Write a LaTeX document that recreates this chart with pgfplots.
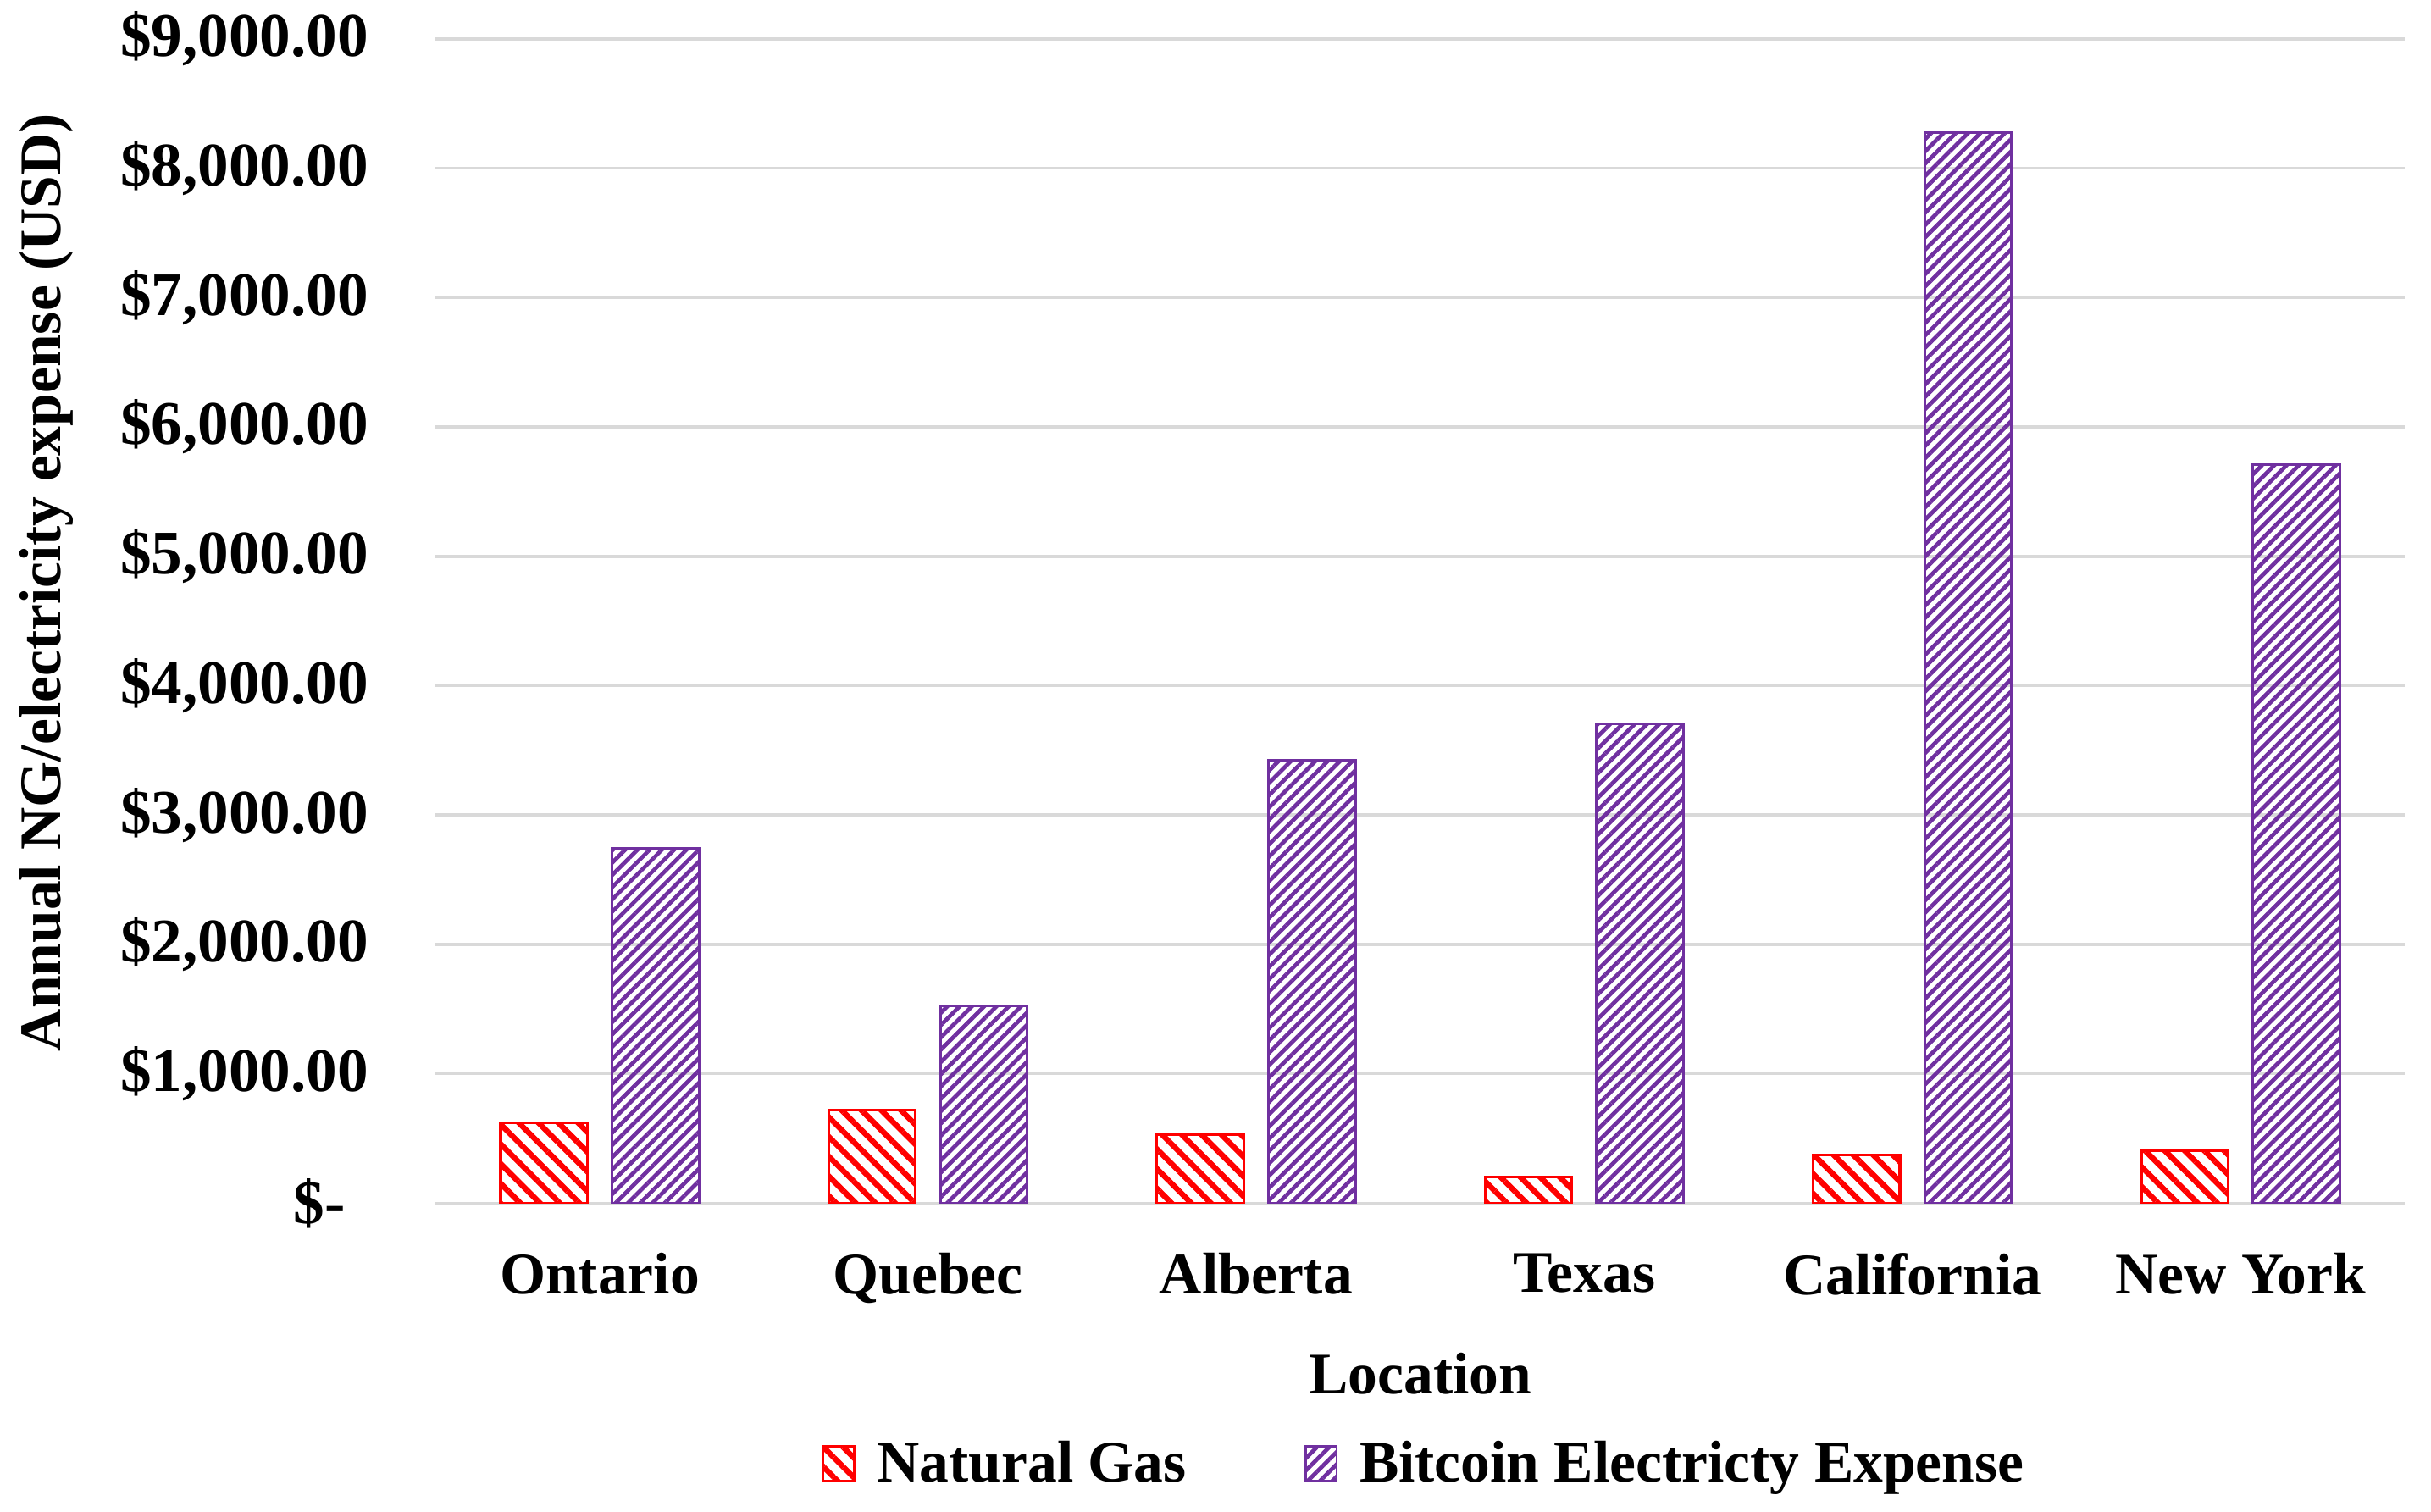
\documentclass[border=0pt]{standalone}
\usepackage{fontspec}
\setmainfont{Liberation Serif}
\usepackage{pgfplots}
\pgfplotsset{compat=1.18}
\usetikzlibrary{patterns.meta}

\definecolor{ngred}{HTML}{FF0000}
\definecolor{btcpurple}{HTML}{7030A0}
\definecolor{gridgray}{HTML}{D9D9D9}

\begin{document}
\begin{tikzpicture}[font=\bfseries\fontsize{19}{23}\selectfont]
\begin{axis}[
  name=ax,
  scale only axis,
  width=635pt, height=375.5pt,
  ybar=8pt, bar width=28pt,
  xmin=-0.5, xmax=5.5,
  ymin=0, ymax=9000,
  xtick={0,1,2,3,4,5},
  xticklabels={Ontario,Quebec,Alberta,Texas,California,New York},
  ytick={0,1000,2000,3000,4000,5000,6000,7000,8000,9000},
  yticklabels={{\$-\kern7.5pt},{\$1,000.00},{\$2,000.00},{\$3,000.00},{\$4,000.00},{\$5,000.00},{\$6,000.00},{\$7,000.00},{\$8,000.00},{\$9,000.00}},
  ymajorgrids,
  grid style={draw=gridgray, line width=1pt},
  axis line style={draw=none},
  major tick length=0pt,
  tick style={draw=none},
  yticklabel style={anchor=east, inner sep=0pt, xshift=-21.5pt,
    font=\bfseries\fontsize{20}{24}\selectfont},
  xticklabel style={anchor=north, inner sep=0pt, yshift=-16pt},
  xlabel={Location},
  xlabel style={at={(axis description cs:0.5,-0.1465)}, anchor=center},
  ylabel={Annual NG/electricity expense (USD)},
  ylabel style={at={(axis description cs:-0.1976,0.533)}, anchor=center},
  legend columns=2,
  legend style={at={(axis description cs:0.503,-0.2237)}, anchor=center,
    draw=none, fill=none, inner sep=0pt,
    /tikz/every odd column/.append style={column sep=5pt},
    /tikz/every even column/.append style={column sep=36pt}},
  legend image code/.code={\draw[#1,line width=0.8pt] (0pt,-5.5pt) rectangle (10pt,5.5pt);},
]
\addplot[draw=ngred, line width=0.9pt,
  pattern={Lines[angle=-45,distance=4.5pt,line width=1.8pt]}, pattern color=ngred]
  coordinates {(0,623) (1,720) (2,528) (3,204) (4,372) (5,408)};
\addlegendentry{Natural Gas}
\addplot[draw=btcpurple, line width=0.9pt,
  pattern={Lines[angle=45,distance=2.8pt,line width=1.3pt]}, pattern color=btcpurple]
  coordinates {(0,2740) (1,1525) (2,3420) (3,3705) (4,8275) (5,5710)};
\addlegendentry{Bitcoin Electricty Expense}
\end{axis}
\path ([xshift=-140.5pt,yshift=-99.5pt]ax.south west) rectangle ([xshift=8.5pt,yshift=12.5pt]ax.north east);
\end{tikzpicture}
\end{document}
